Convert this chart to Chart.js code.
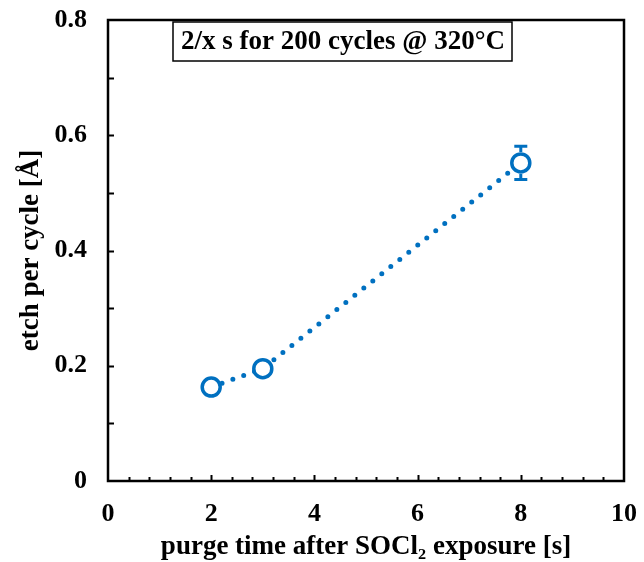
<!DOCTYPE html>
<html>
<head>
<meta charset="utf-8">
<script src="https://cdn.jsdelivr.net/npm/chart.js@4.4.1/dist/chart.umd.min.js"></script>
<style>
  html, body { margin: 0; padding: 0; background: #fff; }
  canvas { display: block; }
</style>
</head>
<body>
<canvas id="etchChart" width="644" height="562"></canvas>
<script>
// purge time [s] and etch per cycle [A]
const purgeTimes = [2, 3, 8];
const etchValues = [0.163, 0.195, 0.552];
const etchErrors = [0, 0, 0.029];
const xTickValues = [0, 2, 4, 6, 8, 10];
const yTickLabels = ['0', '0.2', '0.4', '0.6', '0.8'];
const boxTitle = '2/x s for 200 cycles @ 320°C';

const blue = '#0070C0';
const serif = "'Liberation Serif', 'Times New Roman', serif";

// frame, inner ticks, error bars and the caption box
const extras = {
  id: 'extras',
  afterDatasetsDraw(chart) {
    const ctx = chart.ctx;
    const area = chart.chartArea;
    const xs = chart.scales.x;
    const ys = chart.scales.y;
    ctx.save();

    // error bars
    ctx.strokeStyle = blue;
    ctx.lineWidth = 3;
    for (let i = 0; i < purgeTimes.length; i++) {
      if (!etchErrors[i]) continue;
      const px = xs.getPixelForValue(purgeTimes[i]);
      const mid = ys.getPixelForValue(etchValues[i]);
      const top = ys.getPixelForValue(etchValues[i] + etchErrors[i]);
      const bot = ys.getPixelForValue(etchValues[i] - etchErrors[i]);
      const r = 11;
      ctx.beginPath();
      ctx.moveTo(px - 6.5, top); ctx.lineTo(px + 6.5, top);
      ctx.moveTo(px - 6.5, bot); ctx.lineTo(px + 6.5, bot);
      ctx.moveTo(px, top); ctx.lineTo(px, mid - r);
      ctx.moveTo(px, bot); ctx.lineTo(px, mid + r);
      ctx.stroke();
    }

    // plot frame
    ctx.strokeStyle = '#000';
    ctx.lineWidth = 2.5;
    ctx.strokeRect(area.left, area.top, area.right - area.left, area.bottom - area.top);

    // ticks inside the bottom edge, every 0.4 s
    ctx.lineWidth = 2;
    ctx.beginPath();
    for (let k = 1; k < 25; k++) {
      const v = k * 0.4;
      const px = Math.round(xs.getPixelForValue(v)) + 0.5;
      const major = k % 5 === 0;
      ctx.moveTo(px, area.bottom);
      ctx.lineTo(px, area.bottom - (major ? 6 : 4));
    }
    // ticks inside the left edge, every 0.1
    for (let k = 1; k < 8; k++) {
      const py = Math.round(ys.getPixelForValue(k / 10)) + 0.5;
      ctx.moveTo(area.left, py);
      ctx.lineTo(area.left + 6, py);
    }
    ctx.stroke();

    // caption box
    ctx.lineWidth = 1.5;
    ctx.fillStyle = '#fff';
    ctx.fillRect(173, 22, 339, 39);
    ctx.strokeRect(173, 22, 339, 39);
    ctx.font = 'bold 27px ' + serif;
    ctx.fillStyle = '#000';
    ctx.textAlign = 'center';
    ctx.textBaseline = 'middle';
    ctx.fillText(boxTitle, 343, 42);
    ctx.restore();
  }
};

new Chart(document.getElementById('etchChart'), {
  type: 'scatter',
  data: {
    datasets: [{
      data: purgeTimes.map((x, i) => ({ x: x, y: etchValues[i] })),
      showLine: true,
      borderColor: blue,
      borderWidth: 5,
      borderDash: [0, 11.5],
      borderCapStyle: 'round',
      pointRadius: 9,
      pointHoverRadius: 9,
      pointBorderWidth: 3.5,
      pointBackgroundColor: '#fff',
      pointBorderColor: blue
    }]
  },
  options: {
    responsive: false,
    animation: false,
    events: [],
    layout: { padding: { top: 20, right: 20, left: 0, bottom: 0 } },
    plugins: {
      legend: { display: false },
      tooltip: { enabled: false }
    },
    scales: {
      x: {
        type: 'linear',
        min: 0,
        max: 10,
        afterBuildTicks: (axis) => { axis.ticks = xTickValues.map(v => ({ value: v })); },
        afterFit: (axis) => {
          axis.height = 81;
          axis.paddingLeft = 0;
          axis.paddingRight = 0;
        },
        grid: { display: false, drawTicks: false },
        border: { display: false },
        ticks: {
          padding: 18,
          color: '#000',
          maxRotation: 0,
          font: { family: serif, size: 26, weight: 'bold' }
        },
        title: {
          display: true,
          text: 'purge time after SOCl₂ exposure [s]',
          color: '#000',
          padding: { top: 0, bottom: -1 },
          font: { family: serif, size: 27, weight: 'bold' }
        }
      },
      y: {
        min: 0,
        max: 0.8,
        afterBuildTicks: (axis) => {
          axis.ticks = yTickLabels.map((s, i) => ({ value: i * 0.2 }));
        },
        afterFit: (axis) => {
          axis.width = 108;
          axis.paddingTop = 0;
          axis.paddingBottom = 0;
        },
        grid: { display: false, drawTicks: false },
        border: { display: false },
        ticks: {
          padding: 21,
          color: '#000',
          font: { family: serif, size: 26, weight: 'bold' },
          callback: (value, index) => yTickLabels[index]
        },
        title: {
          display: true,
          text: 'etch per cycle [Å]',
          color: '#000',
          padding: { top: 15, bottom: 0 },
          font: { family: serif, size: 27, weight: 'bold' }
        }
      }
    }
  },
  plugins: [extras]
});
</script>
</body>
</html>
